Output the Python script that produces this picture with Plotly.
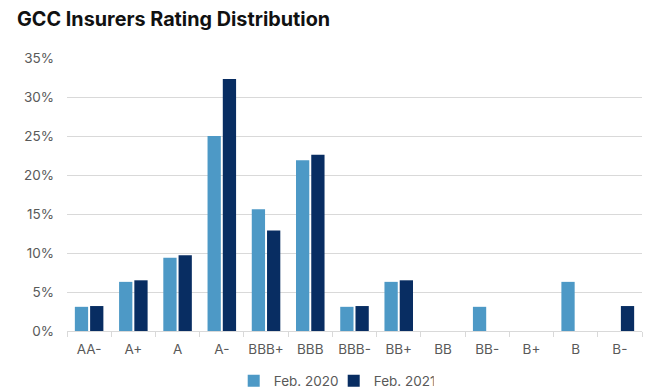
import plotly.graph_objects as go

categories = ["AA-", "A+", "A", "A-", "BBB+", "BBB", "BBB-", "BB+", "BB", "BB-", "B+", "B", "B-"]
feb_2020 = [3.1, 6.3, 9.4, 25.0, 15.6, 21.9, 3.1, 6.3, 0, 3.1, 0, 6.3, 0]
feb_2021 = [3.2, 6.5, 9.7, 32.3, 12.9, 22.6, 3.2, 6.5, 0, 0, 0, 0, 3.2]
y_ticks = [0, 5, 10, 15, 20, 25, 30, 35]
y_tick_labels = [f"{v}%" for v in y_ticks]

c2020 = "#4D99C6"
c2021 = "#082D62"
grey = "#595959"
font_family = "Inter, Roboto, Arial, sans-serif"

fig = go.Figure()
fig.add_trace(go.Bar(name="Feb. 2020", x=categories, y=feb_2020, marker_color=c2020,
                     marker_line_width=0))
fig.add_trace(go.Bar(name="Feb. 2021", x=categories, y=feb_2021, marker_color=c2021,
                     marker_line_width=0))

fig.update_layout(
    width=651, height=392,
    paper_bgcolor="white", plot_bgcolor="white",
    margin=dict(l=67, r=9, t=58, b=61, autoexpand=False),
    barmode="group", bargap=0.31, bargroupgap=0.13,
    font=dict(family=font_family, color=grey, size=13),
    title=dict(text="<b>GCC Insurers Rating Distribution</b>",
               font=dict(family=font_family, size=19.8, color="#111111"),
               xref="container", x=17/651, xanchor="left", pad=dict(l=0, r=0, t=0, b=0),
               yref="container", y=1-19/392, yanchor="middle"),
    showlegend=True,
    legend=dict(orientation="h", xref="container", x=0.359, xanchor="left",
                yref="container", y=1-381/392, yanchor="middle",
                font=dict(size=13.5, color=grey), itemwidth=30,
                entrywidth=55, entrywidthmode="pixels",
                tracegroupgap=0, traceorder="normal"),
    xaxis=dict(type="category", showgrid=False, showline=True, linecolor="#D9D9D9",
               linewidth=1, ticks="outside", tickson="boundaries", ticklen=5,
               tickcolor="#D9D9D9", tickangle=0, automargin=False, ticklabelstandoff=6,
               tickfont=dict(size=13.5, color=grey)),
    yaxis=dict(range=[0, 35], tickvals=y_ticks, ticktext=y_tick_labels,
               showgrid=True, gridcolor="#D9D9D9", gridwidth=1, zeroline=False,
               showline=False, ticks="", ticklabelstandoff=12, automargin=False,
               tickfont=dict(size=13.5, color=grey)),
)

fig.write_html("out.html", config={"displayModeBar": False},
               post_script="document.body.style.margin='0px';")
